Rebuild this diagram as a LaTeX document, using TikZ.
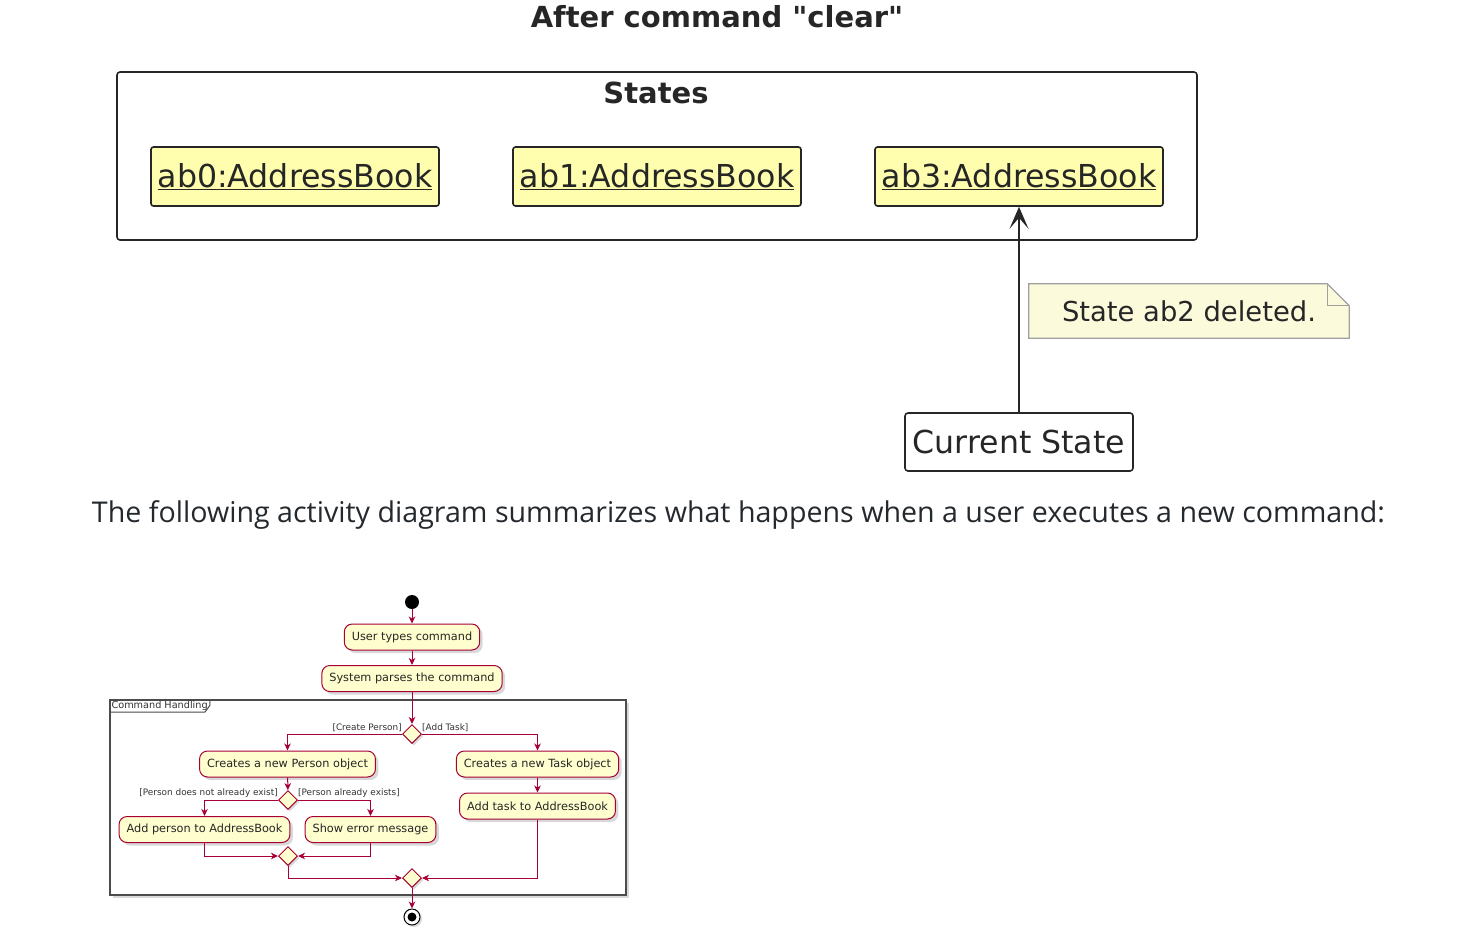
\documentclass[tikz,border=0pt]{standalone}
\usepackage{fontspec}
\setmainfont{DejaVu Sans}
\newfontfamily\introfont{Open Sans}
\usetikzlibrary{arrows.meta,shapes.geometric,shadows,calc,backgrounds,positioning}

\definecolor{inktop}{HTML}{262626}
\definecolor{objfill}{HTML}{FEFEAE}
\definecolor{notefill}{HTML}{FBFBDC}
\definecolor{noteline}{HTML}{A0A0A0}
\definecolor{actfill}{HTML}{FEFECE}
\definecolor{actline}{HTML}{A80036}
\definecolor{introink}{HTML}{24292E}

\begin{document}
\begin{tikzpicture}
[
x=1pt, y=-1pt
, >={Stealth[length=7pt,width=6.5pt,inset=2pt]}
, every node/.style={inner sep=0pt}
, heading/.style={text=inktop, font=\fontsize{29}{33}\selectfont\bfseries}
, objbox/.style={draw=inktop, line width=1.6pt, rounded corners=2.5pt, fill=objfill, text=inktop, minimum width=288pt, minimum height=59pt, font=\fontsize{31.6}{35}\selectfont}
, groupbox/.style={draw=inktop, line width=1.6pt, rounded corners=3pt}
, plainbox/.style={draw=inktop, line width=1.6pt, rounded corners=3pt, fill=white, text=inktop, minimum width=228pt, minimum height=58pt, font=\fontsize{31.6}{35}\selectfont}
, notebox/.style={text=inktop, minimum width=320pt, minimum height=54pt, font=\fontsize{27.4}{31}\selectfont}
, ptr/.style={draw=inktop, line width=1.8pt, -{Stealth[length=22pt,width=19pt,inset=11pt]}}
, intro/.style={text=introink, font=\introfont\fontsize{26}{30}\selectfont}
, act/.style={draw=actline, line width=1pt, fill=actfill, rounded corners=8pt, text=black!85, minimum height=26pt, inner xsep=7.5pt, font=\fontsize{11.3}{13}\selectfont, drop shadow={shadow xshift=3pt, shadow yshift=-3pt, opacity=.3}}
, branch/.style={diamond, aspect=1, draw=actline, line width=1pt, fill=actfill, minimum width=19pt, minimum height=19pt, drop shadow={shadow xshift=2pt, shadow yshift=-2pt, opacity=.3}}
, guard/.style={text=black!80, font=\fontsize{8.9}{10}\selectfont}
, flow/.style={draw=actline, line width=1pt, ->}
, frame/.style={draw=black!70, line width=1.3pt, fill=white, drop shadow={shadow xshift=3pt, shadow yshift=-3pt, opacity=.3}}
, framelabel/.style={text=black!80, inner xsep=2pt, inner ysep=1.5pt, font=\fontsize{9.7}{11}\selectfont}
, startdot/.style={circle, fill=black, minimum size=14pt}
, enddot/.style={circle, draw=black, line width=1pt, fill=white, minimum size=16pt, path picture={\fill[black] (path picture bounding box.center) circle (4.5pt);}, drop shadow={shadow xshift=2pt, shadow yshift=-2pt, opacity=.3}}
]

\useasboundingbox (0,0) rectangle (1478,938);

% object diagram
\node[heading, anchor=base] (title) at (717,27) {After command \textquotedbl clear\textquotedbl};
\node[groupbox, minimum width=1080pt, minimum height=168pt] (states) at (657,156) {};
\node[heading, anchor=base] (statestitle) at (656,103) {States};
\node[objbox] (ab0) at (295,176.5) {\underline{ab0:AddressBook}};
\node[objbox] (ab1) at (657,176.5) {\underline{ab1:AddressBook}};
\node[objbox] (ab3) at (1019,176.5) {\underline{ab3:AddressBook}};

\node[plainbox] (current) at (1019,442) {Current State};
\draw[ptr] (current) -- (ab3);

% note
\node[notebox] (note) at (1189,311) {State ab2 deleted.};
\begin{scope}[on background layer]
\draw[fill=notefill, draw=noteline, line width=1.2pt] (note.north west) -- ($(note.north east)+(-22,0)$) -- ($(note.north east)+(0,22)$) -- (note.south east) -- (note.south west) -- cycle;
\draw[draw=noteline, line width=1.2pt] ($(note.north east)+(-22,0)$) -- ($(note.north east)+(-22,22)$) -- ($(note.north east)+(0,22)$);
\end{scope}

% text line
\node[intro, anchor=base] (intro) at (738.5,522) {\resizebox{1293pt}{!}{The following activity diagram summarizes what happens when a user executes a new command:}};

% activity diagram
\node[frame, minimum width=516pt, minimum height=195pt] (handling) at (368,797.5) {};
\node[framelabel, anchor=north west] (handlinglabel) at (handling.north west) {Command Handling};
\draw[draw=black!70, line width=1pt] (handlinglabel.south west) -- ($(handlinglabel.south east)+(-5,0)$) -- ($(handlinglabel.north east)+(0,6)$) -- (handlinglabel.north east);

\node[startdot] (start) at (412,602) {};
\node[act] (usertypes) at (412,637) {User types command};
\node[act] (parse) at (412,678.5) {System parses the command};
\node[branch] (d1) at (412,734) {};
\node[act] (newperson) at (287.5,764) {Creates a new Person object};
\node[act] (newtask) at (537.5,764) {Creates a new Task object};
\node[branch] (d2) at (288,800) {};
\node[act] (addperson) at (204.5,829.5) {Add person to AddressBook};
\node[act] (showerror) at (370.5,829.5) {Show error message};
\node[act] (addtask) at (537.5,806) {Add task to AddressBook};
\node[branch] (d3) at (288,856) {};
\node[branch] (d4) at (412,878) {};
\node[enddot] (finish) at (412,917) {};

% guards
\node[guard, above left=2pt and 0pt of d1.west] (gperson) {[Create Person]};
\node[guard, above right=2pt and 0pt of d1.east] (gtask) {[Add Task]};
\node[guard, above left=2pt and 0pt of d2.west] (gnew) {[Person does not already exist]};
\node[guard, above right=2pt and 0pt of d2.east] (gexists) {[Person already exists]};

% flows
\draw[flow] (start) -- (usertypes);
\draw[flow] (usertypes) -- (parse);
\draw[flow] (parse) -- (d1);
\draw[flow] (d1) -| (newperson);
\draw[flow] (d1) -| (newtask);
\draw[flow] (newperson) -- (d2);
\draw[flow] (d2) -| (addperson);
\draw[flow] (d2) -| (showerror);
\draw[flow] (addperson) |- (d3);
\draw[flow] (showerror) |- (d3);
\draw[flow] (newtask) -- (addtask);
\draw[flow] (d3) |- (d4);
\draw[flow] (addtask) |- (d4);
\draw[flow] (d4) -- (finish);

\end{tikzpicture}
\end{document}
